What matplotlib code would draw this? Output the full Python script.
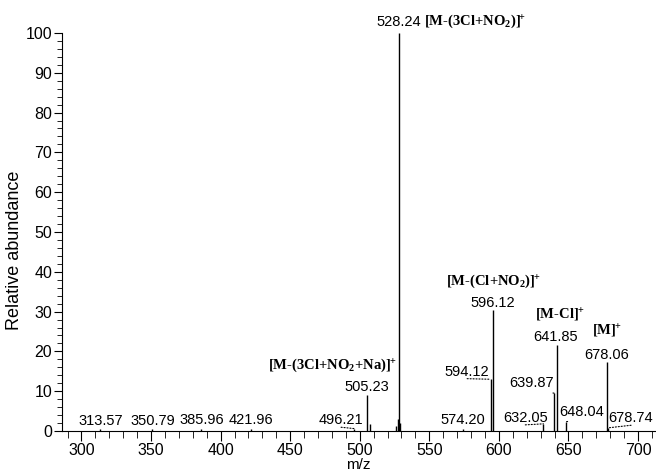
import matplotlib.pyplot as plt
from matplotlib.ticker import MultipleLocator

plt.rcParams["font.family"] = "Liberation Sans"
plt.rcParams["mathtext.fontset"] = "custom"
plt.rcParams["mathtext.rm"] = "Liberation Serif:bold"
plt.rcParams["mathtext.it"] = "Liberation Serif:bold"
plt.rcParams["mathtext.bf"] = "Liberation Serif:bold"

# spectrum sticks (m/z, relative abundance)
mz = [313.57, 350.79, 385.96, 421.96, 496.21, 505.23, 507.2, 526.3, 527.2,
      528.24, 529.2, 574.20, 594.12, 596.12, 632.05, 639.87, 641.85, 648.04,
      678.06, 678.74]
abundance = [0.4, 0.4, 0.5, 0.4, 0.6, 9.0, 1.8, 1.2, 3.0,
             100, 2.0, 0.5, 13.0, 30.4, 1.8, 9.5, 21.6, 2.3,
             17.4, 0.8]

# labelled peaks: text, peak m/z, peak height
peak_text = ["313.57", "350.79", "385.96", "421.96", "496.21", "505.23",
             "574.20", "594.12", "596.12", "632.05", "639.87", "641.85",
             "648.04", "678.06", "678.74"]
peak_x = [313.57, 350.79, 385.96, 421.96, 496.21, 505.23,
          574.20, 594.12, 596.12, 632.05, 639.87, 641.85,
          648.04, 678.06, 678.74]
peak_y = [0.4, 0.4, 0.5, 0.4, 0.6, 9.0,
          0.5, 13.0, 30.4, 1.8, 9.5, 21.6,
          2.3, 17.4, 0.8]

# where the number labels sit (centre), leader drawn when away from peak
label_pos = [(313.8, 2.5), (351.5, 2.5), (386.2, 2.7), (421.6, 2.7),
             (486.6, 2.7), (505.3, 11.1), (574.3, 2.8), (577.2, 14.9),
             (595.5, 32.2), (619.0, 3.3), (623.2, 12.0), (641.1, 23.7),
             (659.8, 4.85), (677.7, 19.1), (695.0, 3.2)]
leader = [False, False, False, False, True, False, False, True,
          False, True, True, False, True, False, True]

SUP = r"$^{\!\!+}$"
ion_text = [r"[M-(3Cl+NO$_2$+Na)]" + SUP, r"[M-(Cl+NO$_2$)]" + SUP,
            r"[M-Cl]" + SUP, r"[M]" + SUP]
ion_pos = [(480.0, 16.6), (596.3, 37.5), (643.7, 29.1), (678.0, 25.0)]

fig = plt.figure(figsize=(6.56, 4.73), dpi=100)
ax = fig.add_axes([0.0945, 0.0888, 0.9035, 0.8415])

ax.vlines(mz, 0, abundance, color="black", linewidth=1.0)

for txt, px, py, (lx, ly), ld in zip(peak_text, peak_x, peak_y, label_pos, leader):
    if ld:
        ax.annotate(txt, xy=(px, py), xytext=(lx, ly), ha="center", va="center",
                    fontsize=10.5,
                    arrowprops=dict(arrowstyle="-", linestyle=":", linewidth=0.8,
                                    color="black", relpos=(0.5, 0.0),
                                    shrinkA=0, shrinkB=0))
    else:
        ax.text(lx, ly, txt, ha="center", va="center", fontsize=10.5)

for txt, (lx, ly) in zip(ion_text, ion_pos):
    ax.text(lx, ly, txt, ha="center", va="center", fontsize=10.5,
            family="Liberation Serif", weight="bold")

# base peak label above the axes
ax.text(528.24, 102.8, "528.24", ha="center", va="center", fontsize=10.5,
        clip_on=False)
ax.text(546, 102.8, r"[M-(3Cl+NO$_2$)]" + SUP, ha="left", va="center",
        fontsize=10.5, family="Liberation Serif", weight="bold", clip_on=False)

ax.set_xlim(286, 712)
ax.set_ylim(0, 100)
ax.xaxis.set_major_locator(MultipleLocator(50))
ax.xaxis.set_minor_locator(MultipleLocator(10))
ax.yaxis.set_major_locator(MultipleLocator(10))
ax.yaxis.set_minor_locator(MultipleLocator(2))

ax.spines["top"].set_visible(False)
ax.spines["right"].set_visible(False)
ax.spines["left"].set_bounds(0, 100)

ax.tick_params(axis="both", which="both", direction="out", labelsize=11.5)
ax.tick_params(axis="y", which="major", length=6, pad=1)
ax.tick_params(axis="y", which="minor", length=3.5)
ax.tick_params(axis="x", which="major", length=7, pad=2)
ax.tick_params(axis="x", which="minor", length=5)

ax.set_xlabel("m/z", fontsize=11, labelpad=0)
ax.set_ylabel("Relative abundance", fontsize=13)
ax.yaxis.set_label_coords(-0.066, 0.455)

plt.savefig("out.png", dpi=100, facecolor="white")
